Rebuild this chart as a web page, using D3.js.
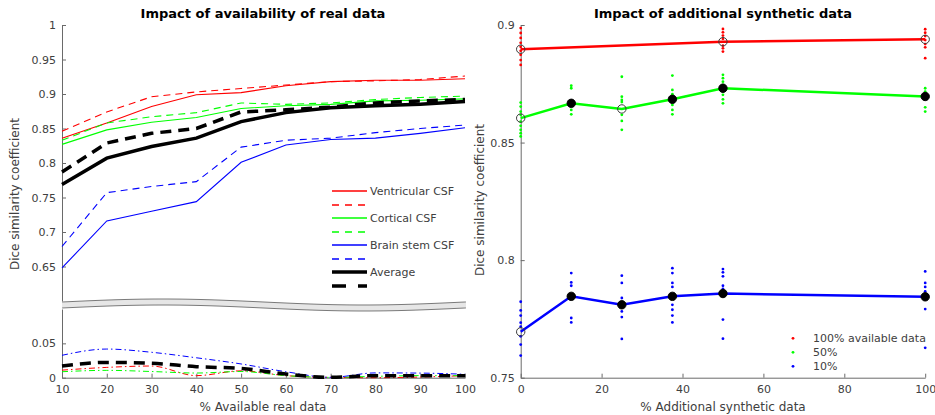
<!DOCTYPE html>
<html>
<head>
<meta charset="utf-8">
<script src="https://cdn.jsdelivr.net/npm/d3@7"></script>
<style>
  body { margin: 0; background: #fff; }
  svg { display: block; font-family: 'DejaVu Sans', sans-serif; }
</style>
</head>
<body>
<script>
// left panel: % of real data used
const pctReal = [10, 20, 30, 40, 50, 60, 70, 80, 90, 100];
const ventricular      = [0.836, 0.858, 0.882, 0.899, 0.902, 0.912, 0.918, 0.920, 0.920, 0.922];
const ventricularSynth = [0.846, 0.874, 0.896, 0.903, 0.908, 0.913, 0.918, 0.919, 0.921, 0.926];
const cortical         = [0.827, 0.848, 0.859, 0.866, 0.879, 0.883, 0.885, 0.890, 0.891, 0.893];
const corticalSynth    = [0.833, 0.858, 0.867, 0.873, 0.887, 0.885, 0.887, 0.892, 0.895, 0.897];
const brainStem        = [0.648, 0.716, 0.730, 0.744, 0.801, 0.826, 0.834, 0.836, 0.843, 0.851];
const brainStemSynth   = [0.679, 0.757, 0.766, 0.773, 0.823, 0.833, 0.836, 0.844, 0.850, 0.855];
const average          = [0.769, 0.807, 0.824, 0.836, 0.860, 0.873, 0.880, 0.883, 0.885, 0.889];
const averageSynth     = [0.787, 0.829, 0.843, 0.850, 0.874, 0.877, 0.881, 0.887, 0.890, 0.892];

// lower strip: gain from synthetic data
const ventricularGain = [0.011, 0.015, 0.017, 0.003, 0.010, 0.003, 0.0005, 0.000, 0.001, 0.003];
const corticalGain    = [0.0087, 0.0107, 0.009, 0.0068, 0.009, 0.003, 0.0005, 0.002, 0.003, 0.003];
const brainStemGain   = [0.0326, 0.0417, 0.037, 0.029, 0.020, 0.0087, 0.0005, 0.007, 0.0067, 0.005];
const averageGain     = [0.017, 0.0223, 0.021, 0.016, 0.0136, 0.0054, 0.0005, 0.003, 0.003, 0.003];

const realTicks = [10, 20, 30, 40, 50, 60, 70, 80, 90, 100];
const upperTicks = [0.65, 0.7, 0.75, 0.8, 0.85, 0.9, 0.95, 1];
const lowerTicks = [0, 0.05];

// right panel: % additional synthetic data
const pctSynth = [0, 12.5, 25, 37.5, 50, 100];
const pctSynthRed = [0, 50, 100];
const mean100 = [0.8897, 0.8929, 0.8939];
const mean50  = [0.8604, 0.8667, 0.8643, 0.8684, 0.8731, 0.8696];
const mean10  = [0.7695, 0.7846, 0.7810, 0.7846, 0.7858, 0.7844];
const signif100 = [false, false, false];
const signif50  = [false, true, false, true, true, true];
const signif10  = [false, true, true, true, true, true];

const runs100 = [
  [0.8987, 0.8966, 0.8945, 0.8924, 0.8907, 0.8890, 0.8873, 0.8851, 0.8830],
  [0.8983, 0.8969, 0.8955, 0.8941, 0.8912, 0.8901, 0.8887],
  [0.8982, 0.8967, 0.8953, 0.8936, 0.8919, 0.8905, 0.8859]
];
const runs50 = [
  [0.8670, 0.8653, 0.8632, 0.8618, 0.8589, 0.8571, 0.8554, 0.8540, 0.8526],
  [0.8742, 0.8731, 0.8675, 0.8657, 0.8639, 0.8620],
  [0.8780, 0.8695, 0.8681, 0.8672, 0.8618, 0.8592, 0.8554],
  [0.8785, 0.8724, 0.8706, 0.8660, 0.8639, 0.8620],
  [0.8788, 0.8774, 0.8759, 0.8745, 0.8703, 0.8684, 0.8667],
  [0.8731, 0.8717, 0.8689, 0.8650, 0.8632]
];
const runs10 = [
  [0.7823, 0.7786, 0.7764, 0.7734, 0.7717, 0.7676, 0.7641, 0.7594],
  [0.7945, 0.7905, 0.7891, 0.7754, 0.7735],
  [0.7934, 0.7903, 0.7839, 0.7782, 0.7758, 0.7665],
  [0.7966, 0.7945, 0.7903, 0.7886, 0.7810, 0.7789, 0.7764, 0.7735],
  [0.7962, 0.7948, 0.7931, 0.7891, 0.7878, 0.7747, 0.7666],
  [0.7952, 0.7903, 0.7886, 0.7867, 0.7792, 0.7627]
];
const synthTicksX = [0, 20, 40, 60, 80, 100];
const synthTicksY = [0.75, 0.8, 0.85, 0.9];

const textCol = '#404040',
      axisCol = '#6a6a6a',
      red = '#ff0000',
      green = '#00ff00',
      blue = '#0000ff';

const svg = d3.select('body').append('svg')
  .attr('width', 935)
  .attr('height', 415);

function styleAxis(g){
  g.selectAll('path, line').attr('stroke', axisCol);
  g.selectAll('text')
    .attr('fill', textCol)
    .style('font-size', '11px')
    .style('font-family', "'DejaVu Sans', sans-serif");
}

function drawRealPanel(){
  const x = d3.scaleLinear().domain([10, 100]).range([62, 465]);
  const yUp = d3.scaleLinear().domain([0.6, 1]).range([301, 25]);
  const yLow = d3.scaleLinear().domain([0, 0.1]).range([377.7, 309]);

  const g = svg.append('g').attr('class', 'real');

  g.append('g')
    .attr('transform', 'translate(62,0)')
    .call(d3.axisLeft(yUp).tickValues(upperTicks).tickFormat(d3.format('~g'))
      .tickSizeInner(-4).tickSizeOuter(0).tickPadding(6))
    .call(styleAxis);

  g.append('g')
    .attr('transform', 'translate(62,0)')
    .call(d3.axisLeft(yLow).tickValues(lowerTicks).tickFormat(d3.format('~g'))
      .tickSizeInner(-4).tickSizeOuter(0).tickPadding(6))
    .call(styleAxis);

  g.append('g')
    .attr('transform', 'translate(0,377.7)')
    .call(d3.axisBottom(x).tickValues(realTicks)
      .tickSizeInner(-4).tickSizeOuter(0).tickPadding(8))
    .call(styleAxis);

  // axis break band between the two strips
  const wave = d3.range(62, 467, 2);
  const top = xx => 302 - 3 * Math.sin(2 * Math.PI * (xx - 62) / 403);
  g.append('path')
    .attr('d', d3.area().x(d => d).y0(d => top(d)).y1(d => top(d) + 6).curve(d3.curveBasis)(wave))
    .attr('fill', '#e6e6e6');
  [0, 6].forEach(off => {
    g.append('path')
      .attr('d', d3.line().x(d => d).y(d => top(d) + off).curve(d3.curveBasis)(wave))
      .attr('fill', 'none')
      .attr('stroke', '#7a7a7a')
      .attr('stroke-width', 1);
  });

  const lineUp = d3.line().x((d, i) => x(pctReal[i])).y(d => yUp(d));
  const lineLow = d3.line().x((d, i) => x(pctReal[i])).y(d => yLow(d)).curve(d3.curveMonotoneX);

  const upperSeries = [
    {v: ventricular, c: red, w: 1.1, dash: null, label: 'Ventricular CSF'},
    {v: ventricularSynth, c: red, w: 1.1, dash: '7,5', label: ''},
    {v: cortical, c: green, w: 1.1, dash: null, label: 'Cortical CSF'},
    {v: corticalSynth, c: green, w: 1.1, dash: '7,5', label: ''},
    {v: brainStem, c: blue, w: 1.1, dash: null, label: 'Brain stem CSF'},
    {v: brainStemSynth, c: blue, w: 1.1, dash: '7,5', label: ''},
    {v: average, c: '#000', w: 3.5, dash: null, label: 'Average'},
    {v: averageSynth, c: '#000', w: 3.5, dash: '11,7', label: ''}
  ];

  upperSeries.forEach(s => {
    g.append('path')
      .attr('d', lineUp(s.v))
      .attr('fill', 'none')
      .attr('stroke', s.c)
      .attr('stroke-width', s.w)
      .attr('stroke-dasharray', s.dash);
  });

  const lowerSeries = [
    {v: ventricularGain, c: red, w: 1, dash: '6,3,1.5,3'},
    {v: corticalGain, c: green, w: 1, dash: '6,3,1.5,3'},
    {v: brainStemGain, c: blue, w: 1, dash: '6,3,1.5,3'},
    {v: averageGain, c: '#000', w: 3.5, dash: '11,7'}
  ];

  lowerSeries.forEach(s => {
    g.append('path')
      .attr('d', lineLow(s.v))
      .attr('fill', 'none')
      .attr('stroke', s.c)
      .attr('stroke-width', s.w)
      .attr('stroke-dasharray', s.dash);
  });

  // legend
  const leg = g.append('g').attr('transform', 'translate(332,0)');
  upperSeries.forEach((s, i) => {
    const yy = Math.round(191 + i * 13.5);
    leg.append('line')
      .attr('x1', 0).attr('x2', 35)
      .attr('y1', yy).attr('y2', yy)
      .attr('stroke', s.c)
      .attr('stroke-width', s.w > 2 ? 3.5 : 1.3)
      .attr('stroke-dasharray', s.dash ? (s.w > 2 ? '14,12' : '7,6') : null);
    if (s.label) {
      leg.append('text')
        .attr('x', 38).attr('y', yy)
        .attr('dy', '0.35em')
        .text(s.label)
        .style('font-size', '11px')
        .attr('fill', textCol);
    }
  });

  g.append('text')
    .text('Impact of availability of real data')
    .attr('x', 263).attr('y', 18)
    .attr('text-anchor', 'middle')
    .style('font-weight', 'bold')
    .style('font-size', '13px')
    .attr('fill', '#000');

  g.append('text')
    .text('% Available real data')
    .attr('x', 263).attr('y', 411)
    .attr('text-anchor', 'middle')
    .style('font-size', '12px')
    .attr('fill', textCol);

  g.append('text')
    .text('Dice similarity coefficient')
    .attr('transform', 'translate(19,194) rotate(-90)')
    .attr('text-anchor', 'middle')
    .style('font-size', '12px')
    .attr('fill', textCol);
}

function drawSynthPanel(){
  const x = d3.scaleLinear().domain([0, 100]).range([520.7, 925.2]);
  const y = d3.scaleLinear().domain([0.75, 0.9]).range([377.7, 25]);

  const g = svg.append('g').attr('class', 'synth');

  g.append('g')
    .attr('transform', 'translate(520.7,0)')
    .call(d3.axisLeft(y).tickValues(synthTicksY).tickFormat(d3.format('~g'))
      .tickSizeInner(-4).tickSizeOuter(0).tickPadding(6))
    .call(styleAxis);

  g.append('g')
    .attr('transform', 'translate(0,377.7)')
    .call(d3.axisBottom(x).tickValues(synthTicksX)
      .tickSizeInner(-4).tickSizeOuter(0).tickPadding(8))
    .call(styleAxis);

  const groups = [
    {xs: pctSynthRed, mean: mean100, sig: signif100, runs: runs100, c: red, label: '100% available data'},
    {xs: pctSynth, mean: mean50, sig: signif50, runs: runs50, c: green, label: '50%'},
    {xs: pctSynth, mean: mean10, sig: signif10, runs: runs10, c: blue, label: '10%'}
  ];

  groups.forEach(s => {
    s.runs.forEach((vals, i) => {
      g.selectAll(null)
        .data(vals)
        .enter()
        .append('circle')
          .attr('cx', x(s.xs[i]))
          .attr('cy', d => y(d))
          .attr('r', 1.4)
          .attr('fill', s.c);
    });

    g.append('path')
      .attr('d', d3.line().x((d, i) => x(s.xs[i])).y(d => y(d))(s.mean))
      .attr('fill', 'none')
      .attr('stroke', s.c)
      .attr('stroke-width', 2.5);

    g.selectAll(null)
      .data(s.mean)
      .enter()
      .append('circle')
        .attr('cx', (d, i) => x(s.xs[i]))
        .attr('cy', d => y(d))
        .attr('r', 4.2)
        .attr('fill', (d, i) => s.sig[i] ? '#000' : 'none')
        .attr('stroke', (d, i) => s.sig[i] ? '#000' : '#3a3a3a')
        .attr('stroke-width', 1);
  });

  const leg = g.append('g').attr('transform', 'translate(793,338.3)');
  groups.forEach((s, i) => {
    leg.append('circle')
      .attr('cx', 0).attr('cy', i * 14)
      .attr('r', 1.4)
      .attr('fill', s.c);
    leg.append('text')
      .attr('x', 20).attr('y', i * 14)
      .attr('dy', '0.35em')
      .text(s.label)
      .style('font-size', '11px')
      .attr('fill', textCol);
  });

  g.append('text')
    .text('Impact of additional synthetic data')
    .attr('x', 723).attr('y', 18)
    .attr('text-anchor', 'middle')
    .style('font-weight', 'bold')
    .style('font-size', '13px')
    .attr('fill', '#000');

  g.append('text')
    .text('% Additional synthetic data')
    .attr('x', 723).attr('y', 411)
    .attr('text-anchor', 'middle')
    .style('font-size', '12px')
    .attr('fill', textCol);

  g.append('text')
    .text('Dice similarity coefficient')
    .attr('transform', 'translate(484,200) rotate(-90)')
    .attr('text-anchor', 'middle')
    .style('font-size', '12px')
    .attr('fill', textCol);
}

drawRealPanel();
drawSynthPanel();
</script>
</body>
</html>
